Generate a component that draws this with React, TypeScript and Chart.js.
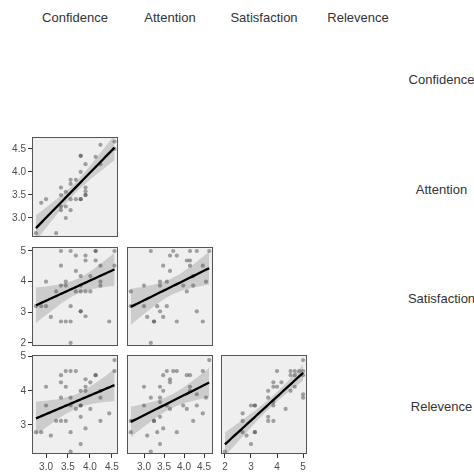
import React, { useEffect, useRef } from "react";
import { Chart, registerables } from "chart.js";
Chart.register(...registerables);

const variables = ["Confidence", "Attention", "Satisfaction", "Relevence"];

// Axis ticks / labels
const confidenceTicks = [3.0, 3.5, 4.0, 4.5];
const confidenceLabels = ["3.0", "3.5", "4.0", "4.5"];
const attentionTicks = [3.0, 3.5, 4.0, 4.5];
const attentionLabels = ["3.0", "3.5", "4.0", "4.5"];
const satisfactionTicks = [2, 3, 4, 5];
const satisfactionLabels = ["2", "3", "4", "5"];
const relevenceTicks = [3, 4, 5];
const relevenceLabels = ["3", "4", "5"];

// Panel: Confidence (x) vs Attention (y)
const confAttX = [2.77, 3.23, 2.89, 3.0, 3.34, 3.34, 3.45, 3.34, 3.34, 3.45, 3.45, 3.56, 3.56, 3.56, 3.56, 3.68, 3.68, 3.79, 3.79, 3.79, 3.79, 3.79, 3.9, 3.9, 3.9, 3.9, 3.9, 4.13, 4.24, 4.24, 4.56, 4.56];
const confAttY = [2.67, 2.67, 3.33, 3.41, 3.66, 3.5, 3.57, 3.25, 3.17, 3.25, 3.0, 3.17, 3.41, 3.74, 3.83, 3.83, 3.41, 3.41, 3.41, 4.35, 4.35, 4.0, 4.17, 3.66, 3.5, 3.5, 3.58, 4.33, 4.59, 4.17, 4.66, 4.5];

// Panel: Confidence (x) vs Satisfaction (y)
const confSatX = [2.77, 2.89, 3.0, 3.0, 3.11, 3.23, 3.34, 3.34, 3.34, 3.34, 3.45, 3.45, 3.45, 3.56, 3.56, 3.56, 3.56, 3.68, 3.68, 3.68, 3.79, 3.79, 3.79, 3.79, 3.79, 3.9, 3.9, 3.9, 3.9, 4.01, 4.01, 4.13, 4.13, 4.13, 4.24, 4.24, 4.24, 4.44, 4.56, 4.56];
const confSatY = [3.2, 3.2, 3.2, 4.0, 2.85, 3.68, 5.0, 4.52, 3.87, 2.7, 4.0, 3.87, 2.7, 5.0, 3.2, 2.7, 2.0, 4.85, 4.35, 3.68, 4.18, 3.87, 3.68, 3.03, 3.03, 4.85, 4.69, 3.68, 2.87, 4.18, 3.68, 5.0, 5.0, 4.69, 4.52, 4.0, 3.87, 2.7, 5.0, 4.52];

// Panel: Attention (x) vs Satisfaction (y)
const attSatX = [2.67, 2.67, 3.0, 3.0, 3.08, 3.17, 3.17, 3.25, 3.25, 3.33, 3.4, 3.4, 3.4, 3.48, 3.48, 3.57, 3.57, 3.65, 3.65, 3.73, 3.82, 3.82, 3.98, 4.07, 4.07, 4.15, 4.15, 4.15, 4.23, 4.23, 4.32, 4.32, 4.47, 4.47, 4.55, 4.63];
const attSatY = [3.68, 3.2, 3.87, 3.2, 2.85, 5.0, 2.0, 2.7, 2.7, 3.2, 4.0, 3.87, 3.03, 4.52, 2.85, 4.0, 3.2, 4.85, 4.35, 5.0, 4.85, 2.7, 3.87, 4.69, 3.68, 5.0, 4.69, 4.52, 4.18, 3.87, 5.0, 3.03, 4.52, 2.7, 4.0, 5.0];

// Panel: Confidence (x) vs Relevence (y)
const confRelX = [2.77, 2.89, 3.0, 3.0, 3.11, 3.23, 3.34, 3.34, 3.34, 3.34, 3.45, 3.45, 3.45, 3.56, 3.56, 3.56, 3.56, 3.56, 3.68, 3.68, 3.79, 3.79, 3.79, 3.79, 3.79, 3.9, 3.9, 3.9, 3.9, 4.01, 4.01, 4.13, 4.13, 4.24, 4.24, 4.24, 4.44, 4.56, 4.56];
const confRelY = [2.79, 2.79, 4.12, 3.57, 2.69, 3.12, 4.46, 4.25, 3.8, 3.12, 4.58, 4.12, 3.12, 4.58, 3.8, 3.57, 2.79, 2.22, 4.58, 3.47, 4.0, 3.57, 3.57, 3.24, 2.44, 4.34, 4.12, 4.0, 2.9, 4.25, 3.47, 4.46, 4.46, 4.0, 3.8, 3.12, 3.34, 4.9, 4.58];

// Panel: Attention (x) vs Relevence (y)
const attRelX = [2.67, 2.67, 3.0, 3.0, 3.08, 3.17, 3.17, 3.25, 3.25, 3.33, 3.4, 3.4, 3.4, 3.4, 3.4, 3.48, 3.48, 3.48, 3.57, 3.57, 3.65, 3.65, 3.65, 3.73, 3.82, 3.82, 3.98, 4.07, 4.07, 4.15, 4.15, 4.15, 4.23, 4.32, 4.32, 4.47, 4.47, 4.55, 4.63];
const attRelY = [3.12, 2.79, 4.12, 3.57, 2.69, 3.8, 2.22, 3.12, 3.12, 2.79, 4.12, 3.8, 3.67, 3.24, 2.44, 4.46, 4.0, 2.9, 4.58, 3.57, 4.34, 4.25, 3.47, 4.58, 4.58, 2.79, 3.57, 4.46, 3.47, 4.46, 4.12, 4.0, 3.12, 3.9, 3.57, 4.58, 3.34, 3.8, 4.9];

// Panel: Satisfaction (x) vs Relevence (y)
const satRelX = [2.0, 2.68, 2.68, 2.68, 2.83, 3.0, 3.0, 3.15, 3.15, 3.15, 3.15, 3.66, 3.66, 3.66, 3.66, 3.86, 3.86, 3.86, 3.86, 3.86, 4.0, 4.0, 4.17, 4.33, 4.52, 4.52, 4.52, 4.68, 4.68, 4.68, 4.85, 5.0, 5.0, 5.0, 5.0, 5.0];
const satRelY = [2.22, 3.34, 3.12, 2.79, 2.69, 3.57, 2.44, 3.57, 3.57, 2.79, 2.79, 4.0, 3.8, 3.24, 3.12, 3.12, 3.57, 3.67, 4.25, 4.12, 4.58, 4.12, 4.25, 3.47, 4.58, 4.46, 4.0, 4.58, 4.46, 4.12, 4.58, 4.9, 4.58, 4.46, 3.9, 3.8];

type Axis = { min: number; max: number; ticks: number[]; labels: string[] };
const confidenceAxis: Axis = { min: 2.68, max: 4.64, ticks: confidenceTicks, labels: confidenceLabels };
const attentionXAxis: Axis = { min: 2.575, max: 4.725, ticks: attentionTicks, labels: attentionLabels };
const attentionYAxis: Axis = { min: 2.587, max: 4.76, ticks: attentionTicks, labels: attentionLabels };
const satisfactionXAxis: Axis = { min: 1.85, max: 5.15, ticks: satisfactionTicks, labels: satisfactionLabels };
const satisfactionYAxis: Axis = { min: 1.9, max: 5.13, ticks: satisfactionTicks, labels: satisfactionLabels };
const relevenceAxis: Axis = { min: 2.15, max: 5.05, ticks: relevenceTicks, labels: relevenceLabels };

const colLeft = [32, 127, 221, 315];
const colWidth = 86;
const rowTop = [27, 137, 247, 355];
const rowHeight = [100, 100, 99, 99];

type PanelSpec = {
  xs: number[]; ys: number[]; col: number; row: number;
  xAxis: Axis; yAxis: Axis; showX: boolean; showY: boolean;
};

const panels: PanelSpec[] = [
  { xs: confAttX, ys: confAttY, col: 0, row: 1, xAxis: confidenceAxis, yAxis: attentionYAxis, showX: false, showY: true },
  { xs: confSatX, ys: confSatY, col: 0, row: 2, xAxis: confidenceAxis, yAxis: satisfactionYAxis, showX: false, showY: true },
  { xs: attSatX, ys: attSatY, col: 1, row: 2, xAxis: attentionXAxis, yAxis: satisfactionYAxis, showX: false, showY: false },
  { xs: confRelX, ys: confRelY, col: 0, row: 3, xAxis: confidenceAxis, yAxis: relevenceAxis, showX: true, showY: true },
  { xs: attRelX, ys: attRelY, col: 1, row: 3, xAxis: attentionXAxis, yAxis: relevenceAxis, showX: true, showY: false },
  { xs: satRelX, ys: satRelY, col: 2, row: 3, xAxis: satisfactionXAxis, yAxis: relevenceAxis, showX: true, showY: false },
];

const PAD_L = 34, PAD_T = 8, PAD_R = 8, PAD_B = 22;
const FONT = "'Liberation Sans', Arial, Helvetica, sans-serif";

function fitLm(xs: number[], ys: number[]) {
  const n = xs.length;
  const mx = xs.reduce((a, b) => a + b, 0) / n;
  const my = ys.reduce((a, b) => a + b, 0) / n;
  let sxx = 0, sxy = 0;
  for (let i = 0; i < n; i++) { sxx += (xs[i] - mx) ** 2; sxy += (xs[i] - mx) * (ys[i] - my); }
  const b = sxy / sxx;
  const a = my - b * mx;
  let sse = 0;
  for (let i = 0; i < n; i++) sse += (ys[i] - a - b * xs[i]) ** 2;
  const s = Math.sqrt(sse / (n - 2));
  const t = 2.03;
  const x0 = Math.min(...xs), x1 = Math.max(...xs);
  const line: { x: number; y: number }[] = [];
  const lower: { x: number; y: number }[] = [];
  const upper: { x: number; y: number }[] = [];
  const steps = 40;
  for (let k = 0; k <= steps; k++) {
    const x = x0 + ((x1 - x0) * k) / steps;
    const yh = a + b * x;
    const se = s * Math.sqrt(1 / n + (x - mx) ** 2 / sxx);
    line.push({ x, y: yh });
    lower.push({ x, y: yh - t * se });
    upper.push({ x, y: yh + t * se });
  }
  return { line, lower, upper };
}

const panelDeco = {
  id: "panelDeco",
  beforeDatasetsDraw(chart: any) {
    const { ctx, chartArea: ca } = chart;
    ctx.save();
    ctx.fillStyle = "#EFEFEF";
    ctx.fillRect(ca.left, ca.top, ca.right - ca.left, ca.bottom - ca.top);
    ctx.restore();
  },
  afterDatasetsDraw(chart: any) {
    const { ctx, chartArea: ca } = chart;
    ctx.save();
    ctx.strokeStyle = "#555555";
    ctx.lineWidth = 1;
    ctx.strokeRect(ca.left + 0.5, ca.top + 0.5, ca.right - ca.left - 1, ca.bottom - ca.top - 1);
    ctx.restore();
  },
};

function axisOptions(axis: Axis, show: boolean, isX: boolean) {
  return {
    type: "linear",
    min: axis.min,
    max: axis.max,
    display: show,
    afterFit: (s: any) => {
      if (isX) s.height = show ? PAD_B : 0;
      else s.width = show ? PAD_L : 0;
    },
    afterBuildTicks: (s: any) => {
      s.ticks = axis.ticks.map((v) => ({ value: v }));
    },
    ticks: {
      autoSkip: false,
      maxRotation: 0,
      padding: isX ? 3 : 2,
      color: "#4D4D4D",
      font: { size: 10, family: FONT },
      callback: (_v: any, i: number) => axis.labels[i],
    },
    grid: { drawOnChartArea: false, drawTicks: true, tickLength: 4, color: "#333333", lineWidth: 1 },
    border: { display: false },
  };
}

function Panel({ spec }: { spec: PanelSpec }) {
  const ref = useRef<HTMLCanvasElement>(null);
  const w = colWidth + PAD_L + PAD_R;
  const h = rowHeight[spec.row] + PAD_T + PAD_B;
  const left = colLeft[spec.col] - PAD_L;
  const top = rowTop[spec.row] - PAD_T;
  useEffect(() => {
    const fit = fitLm(spec.xs, spec.ys);
    const points = spec.xs.map((x, i) => ({ x, y: spec.ys[i] }));
    const chart = new Chart(ref.current as HTMLCanvasElement, {
      type: "scatter",
      data: {
        datasets: [
          { type: "line", data: fit.lower, borderWidth: 0, pointRadius: 0, fill: false, order: 3, borderColor: "rgba(0,0,0,0)" } as any,
          { type: "line", data: fit.upper, borderWidth: 0, pointRadius: 0, fill: "-1", order: 2, borderColor: "rgba(0,0,0,0)", backgroundColor: "rgba(153,153,153,0.4)" } as any,
          { type: "scatter", data: points, pointRadius: 2.1, borderWidth: 0, backgroundColor: "rgba(60,60,60,0.45)", order: 1 } as any,
          { type: "line", data: fit.line, borderWidth: 2.3, borderColor: "#000000", pointRadius: 0, fill: false, order: 0 } as any,
        ],
      },
      options: {
        responsive: false,
        animation: false,
        devicePixelRatio: 1,
        events: [],
        layout: {
          autoPadding: false,
          padding: { left: spec.showY ? 0 : PAD_L, top: PAD_T, right: PAD_R, bottom: spec.showX ? 0 : PAD_B },
        },
        plugins: { legend: { display: false }, tooltip: { enabled: false } },
        scales: {
          x: axisOptions(spec.xAxis, spec.showX, true),
          y: axisOptions(spec.yAxis, spec.showY, false),
        },
      } as any,
      plugins: [panelDeco],
    });
    return () => chart.destroy();
  }, []);
  return (
    <canvas
      ref={ref}
      width={w}
      height={h}
      style={{ position: "absolute", left, top, width: w, height: h }}
    />
  );
}

export default function App() {
  const labelStyle: React.CSSProperties = {
    position: "absolute",
    transform: "translate(-50%, -50%)",
    fontFamily: FONT,
    fontSize: 13,
    lineHeight: "13px",
    color: "#333333",
    whiteSpace: "nowrap",
  };
  return (
    <div style={{ position: "fixed", left: 0, top: 0, width: 474, height: 474, background: "#FFFFFF", overflow: "hidden" }}>
      {variables.map((v, i) => (
        <div key={"top" + v} style={{ ...labelStyle, left: colLeft[i] + colWidth / 2, top: 16.5 }}>{v}</div>
      ))}
      {variables.map((v, i) => (
        <div key={"right" + v} style={{ ...labelStyle, left: 441.5, top: rowTop[i] + rowHeight[i] / 2 + 1.5 }}>{v}</div>
      ))}
      {panels.map((p, i) => (
        <Panel key={i} spec={p} />
      ))}
    </div>
  );
}
